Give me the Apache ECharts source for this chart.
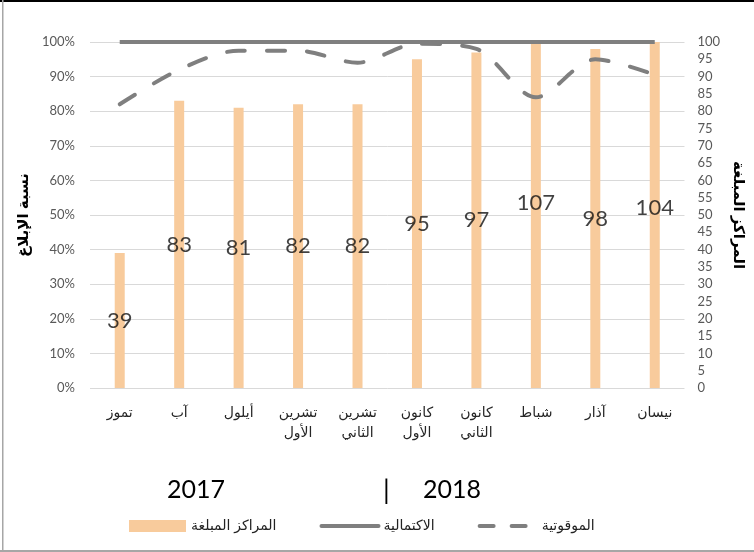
<!DOCTYPE html>
<html>
<head>
<meta charset="utf-8">
<script src="https://cdn.jsdelivr.net/npm/echarts@6/dist/echarts.min.js"></script>
<style>
  html, body { margin: 0; padding: 0; background: #fff; }
  #main { width: 754px; height: 552px; }
</style>
</head>
<body>
<div id="main"></div>
<script>
// الأشهر
const months = ['تموز', 'آب', 'أيلول', 'تشرين\nالأول', 'تشرين\nالثاني', 'كانون\nالأول', 'كانون\nالثاني', 'شباط', 'آذار', 'نيسان'];
// المراكز المبلغة (المحور الأيمن)
const reportingCentres = [39, 83, 81, 82, 82, 95, 97, 107, 98, 104];
// الاكتمالية %
const completeness = [100, 100, 100, 100, 100, 100, 100, 100, 100, 100];
// الموقوتية %
const timeliness = [82, 92, 97.5, 97.5, 94, 99.5, 98, 84, 95, 90.5];

const arFont = 'Liberation Sans, DejaVu Sans, sans-serif';
const numFont = 'Lato, Liberation Sans, sans-serif';
const grey = '#7F7F7F';

const chart = echarts.init(document.getElementById('main'));

const option = {
    animation: false,
    backgroundColor: '#fff',
    grid: { left: 90, right: 66, top: 42, bottom: 164 },
    legend: {
        left: 124,
        top: 514,
        itemGap: 43,
        itemWidth: 57,
        itemHeight: 12,
        textStyle: { fontFamily: arFont, fontSize: 14, color: '#222' },
        data: [
            { name: 'المراكز المبلغة', icon: 'rect' },
            { name: 'الاكتمالية', itemStyle: { opacity: 0 }, lineStyle: { width: 4, cap: 'round' } },
            { name: 'الموقوتية', itemStyle: { opacity: 0 }, lineStyle: { width: 4, cap: 'round', type: [14, 18] } }
        ]
    },
    xAxis: {
        type: 'category',
        data: months,
        axisLine: { show: false },
        axisTick: { show: false },
        axisLabel: {
            margin: 15,
            fontFamily: arFont,
            fontSize: 14,
            lineHeight: 20,
            color: '#262626'
        }
    },
    yAxis: [
        {
            type: 'value',
            min: 0,
            max: 100,
            interval: 10,
            name: 'نسبة الإبلاغ',
            nameLocation: 'middle',
            nameGap: 48,
            nameTextStyle: { fontFamily: arFont, fontSize: 15, fontWeight: 'bold', color: '#000' },
            axisLabel: { formatter: '{value}%', fontFamily: numFont, fontSize: 13, color: '#595959', margin: 15 },
            splitLine: { lineStyle: { color: '#D9D9D9', width: 1 } },
            axisLine: { show: false },
            axisTick: { show: false }
        },
        {
            type: 'value',
            min: 0,
            max: 100,
            interval: 5,
            name: 'المراكز المبلغة',
            nameLocation: 'middle',
            nameRotate: -90,
            nameGap: 40,
            nameTextStyle: { fontFamily: arFont, fontSize: 15, fontWeight: 'bold', color: '#000' },
            axisLabel: { fontFamily: numFont, fontSize: 13, color: '#595959', margin: 13 },
            splitLine: { show: false },
            axisLine: { show: false },
            axisTick: { show: false }
        }
    ],
    series: [
        {
            name: 'المراكز المبلغة',
            type: 'bar',
            yAxisIndex: 1,
            data: reportingCentres,
            barWidth: 10,
            clip: true,
            itemStyle: { color: '#F8CB9C' },
            z: 1
        },
        {
            // labels at the centre of the full (unclipped) bar
            name: 'labels',
            type: 'scatter',
            yAxisIndex: 1,
            data: reportingCentres.map(v => v / 2),
            symbolSize: 0,
            silent: true,
            label: {
                show: true,
                position: 'inside',
                formatter: p => String(reportingCentres[p.dataIndex]),
                fontFamily: numFont,
                fontSize: 22,
                color: '#111'
            },
            z: 5
        },
        {
            name: 'الاكتمالية',
            type: 'line',
            yAxisIndex: 0,
            data: completeness,
            symbol: 'none',
            lineStyle: { color: grey, width: 4 },
            itemStyle: { color: grey },
            z: 3
        },
        {
            name: 'الموقوتية',
            type: 'line',
            yAxisIndex: 0,
            data: timeliness,
            symbol: 'none',
            smooth: 0.3,
            lineStyle: { color: grey, width: 4, type: [18, 22], cap: 'round' },
            itemStyle: { color: grey },
            z: 3
        }
    ],
    graphic: [
        { type: 'rect', shape: { x: 0, y: 0, width: 754, height: 2 }, style: { fill: '#000' } },
        { type: 'rect', shape: { x: 2, y: 0, width: 1.5, height: 552 }, style: { fill: '#A6A6A6' } },
        { type: 'rect', shape: { x: 0, y: 550, width: 754, height: 2 }, style: { fill: '#A6A6A6' } },
        { type: 'text', left: 167, top: 477, style: { text: '2017', font: '25px ' + numFont, fill: '#000' } },
        { type: 'text', left: 383, top: 477, style: { text: '|', font: '27px ' + numFont, fill: '#000' } },
        { type: 'text', left: 423, top: 477, style: { text: '2018', font: '25px ' + numFont, fill: '#000' } }
    ]
};

chart.setOption(option);
</script>
</body>
</html>
